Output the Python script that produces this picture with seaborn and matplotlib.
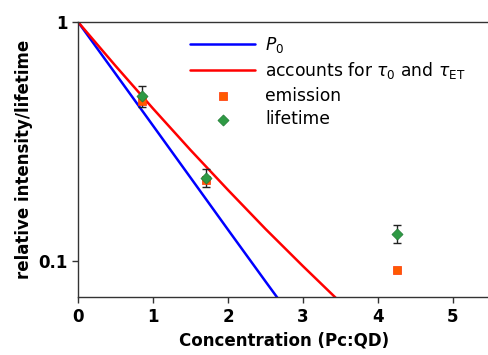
import numpy as np
import matplotlib
matplotlib.use('Agg')
import matplotlib.pyplot as plt
import seaborn as sns

# curves
conc_line = [0, 0.5, 1.0, 1.5, 2.0, 2.5, 3.0, 3.5]
p0 = [1.0, 0.607, 0.368, 0.223, 0.135, 0.082, 0.050, 0.030]
tau_model = [1.0, 0.655, 0.434, 0.291, 0.198, 0.136, 0.095, 0.067]

# measured points
conc_pts = [0.85, 1.70, 4.25]
emission = [0.465, 0.218, 0.0916]
lifetime = [0.49, 0.223, 0.130]
lifetime_err = [0.05, 0.02, 0.011]

sns.set_style('ticks')
plt.rcParams['font.family'] = ['DejaVu Sans']
plt.rcParams['text.color'] = 'black'
plt.rcParams['axes.labelcolor'] = 'black'

fig = plt.figure(figsize=(4.88, 3.55), dpi=100)
ax = fig.add_axes([0.160, 0.163, 0.845, 0.775])

sns.lineplot(x=conc_line, y=p0, color='blue', linewidth=1.8, label='$P_0$', ax=ax)
sns.lineplot(x=conc_line, y=tau_model, color='red', linewidth=1.8,
             label=r'accounts for $\tau_0$ and $\tau_{\mathrm{ET}}$', ax=ax)
ax.errorbar(conc_pts, lifetime, yerr=lifetime_err, fmt='none', ecolor='#222222',
            elinewidth=1, capsize=3, capthick=1, zorder=3)
sns.scatterplot(x=conc_pts, y=emission, marker='s', s=30, color='#ff5a00',
                edgecolor='#ff3300', linewidth=0.5, label='emission', ax=ax, zorder=4)
sns.scatterplot(x=conc_pts, y=lifetime, marker='D', s=32, color='#2e9a44',
                edgecolor='#1f7a33', linewidth=0.5, label='lifetime', ax=ax, zorder=5)

ax.set_yscale('log')
ax.set_xlim(0, 5.5)
ax.set_ylim(0.0705, 1.0)
ax.set_yticks([0.1, 1])
ax.set_yticklabels(['0.1', '1'])
ax.yaxis.set_minor_locator(matplotlib.ticker.NullLocator())
ax.set_xticks([0, 1, 2, 3, 4, 5])
ax.tick_params(labelsize=12, width=1, length=4, colors='#333333', labelcolor='black')
for lab in ax.get_xticklabels() + ax.get_yticklabels():
    lab.set_fontweight('bold')
for sp in ax.spines.values():
    sp.set_visible(True)
    sp.set_color('#333333')
    sp.set_linewidth(1)

ax.set_xlabel('Concentration (Pc:QD)', fontsize=12, fontweight='bold')
ax.set_ylabel('relative intensity/lifetime', fontsize=12, fontweight='bold')

ax.legend(loc='upper left', bbox_to_anchor=(0.272, 0.953), frameon=False, fontsize=12.3,
          handlelength=3.8, labelspacing=0.32, handletextpad=0.6,
          borderpad=0, borderaxespad=0)

fig.savefig('out.png', dpi=100)
